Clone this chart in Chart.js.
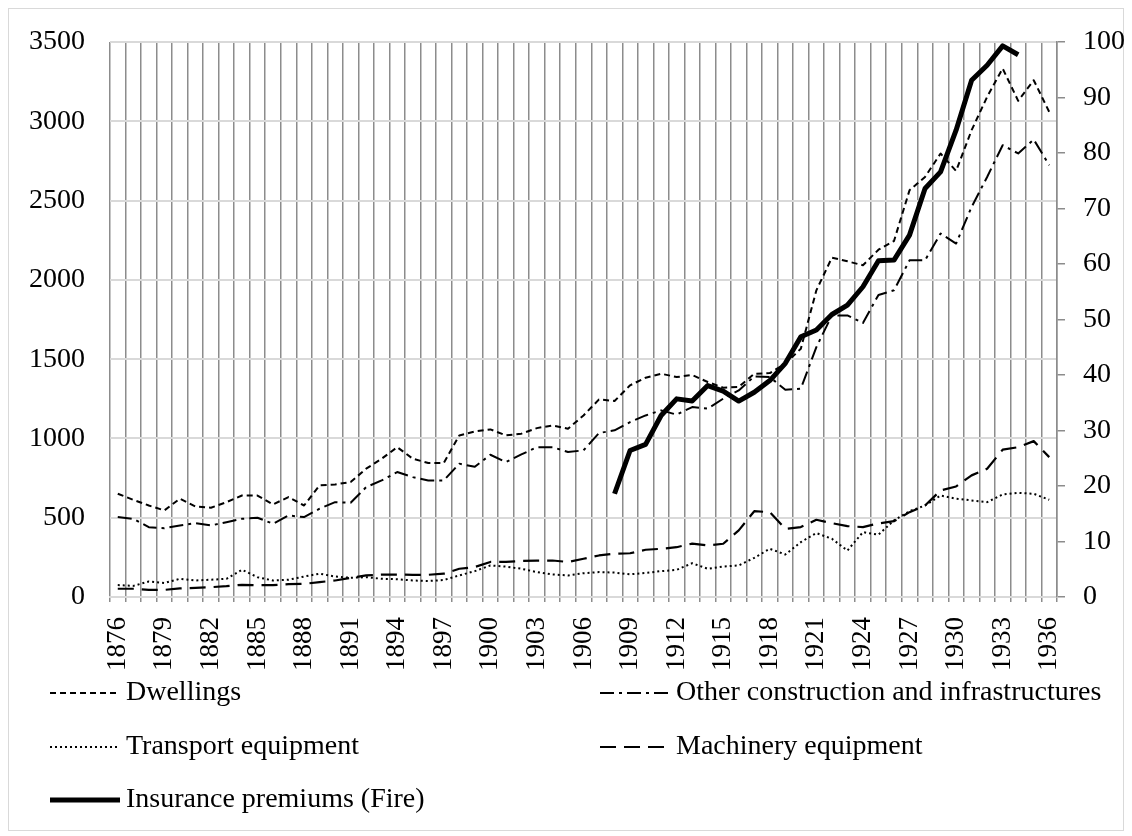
<!DOCTYPE html>
<html>
<head>
<meta charset="utf-8">
<script src="https://cdn.jsdelivr.net/npm/chart.js@4/dist/chart.umd.min.js"></script>
<style>
  body { margin: 0; background: #fff; }
  #wrap { width: 1132px; height: 836px; position: relative; }
</style>
</head>
<body>
<div id="wrap"><canvas id="chart"></canvas></div>
<script>
// years 1876 - 1936
var years = [];
for (var y = 1876; y <= 1936; y++) years.push(String(y));

var dwellings = [651, 613, 577, 546, 620, 571, 563, 598, 640, 640,
  584, 630, 577, 704, 710, 725, 809, 872, 945, 872,
  845, 845, 1019, 1044, 1057, 1019, 1030, 1065, 1082, 1061,
  1145, 1246, 1236, 1335, 1383, 1408, 1387, 1400, 1356, 1320,
  1325, 1408, 1412, 1472, 1566, 1934, 2140, 2117, 2092, 2190,
  2245, 2565, 2649, 2797, 2687, 2944, 3154, 3333, 3129, 3259, 3059];

var otherConstruction = [504, 493, 440, 434, 451, 466, 451, 472, 493, 500,
  462, 514, 504, 557, 598, 594, 693, 735, 788, 756,
  735, 735, 841, 821, 897, 851, 899, 945, 945, 914,
  925, 1034, 1051, 1103, 1145, 1177, 1150, 1198, 1188, 1251,
  1303, 1391, 1387, 1307, 1314, 1576, 1776, 1776, 1728, 1905,
  1934, 2123, 2123, 2292, 2229, 2460, 2649, 2849, 2797, 2885, 2723];

var transport = [75, 70, 98, 88, 115, 104, 109, 115, 172, 125,
  104, 109, 129, 147, 129, 121, 125, 115, 112, 104,
  101, 107, 136, 163, 199, 192, 178, 157, 142, 136,
  150, 157, 154, 143, 152, 163, 171, 213, 178, 192,
  199, 247, 304, 268, 346, 403, 367, 293, 409, 393,
  483, 541, 577, 640, 620, 609, 598, 647, 657, 651, 613];

var machinery = [52, 52, 45, 45, 54, 58, 62, 68, 77, 75,
  75, 81, 83, 94, 104, 121, 136, 141, 141, 140,
  140, 147, 178, 189, 221, 221, 227, 230, 230, 221,
  241, 262, 273, 276, 298, 304, 314, 337, 325, 336,
  420, 541, 535, 430, 441, 487, 466, 447, 441, 464,
  478, 535, 577, 672, 697, 767, 809, 929, 945, 983, 882];

// Insurance premiums (Fire), right axis, 1908 - 1934
var insuranceFirstYear = 1908;
var insurance = [18.6, 26.4, 27.5, 32.7, 35.7, 35.3, 38.1, 37.1, 35.3, 36.9,
  39.0, 42.1, 46.9, 48.1, 50.9, 52.6, 55.9, 60.6, 60.7, 65.2,
  73.6, 76.6, 84.1, 93.1, 95.8, 99.3, 97.7];

var insuranceData = years.map(function (yr) {
  var k = Number(yr) - insuranceFirstYear;
  return (k >= 0 && k < insurance.length) ? insurance[k] : null;
});

var FONT = 'Liberation Serif, Times New Roman, serif';

var legendItems = [
  { label: 'Dwellings', dash: [6, 4], width: 2, x: 50, y: 693 },
  { label: 'Other construction and infrastructures', dash: [14, 5, 3, 5], width: 2, x: 600, y: 693 },
  { label: 'Transport equipment', dash: [2, 3], width: 2, x: 50, y: 747 },
  { label: 'Machinery equipment', dash: [16, 8], width: 2.2, x: 600, y: 747 },
  { label: 'Insurance premiums (Fire)', dash: [], width: 5, x: 50, y: 800 }
];

var legendPlugin = {
  id: 'bottomLegend',
  beforeDraw: function (chart) {
    var ctx = chart.ctx;
    ctx.save();
    ctx.strokeStyle = '#d9d9d9';
    ctx.lineWidth = 1;
    ctx.strokeRect(8.5, 8.5, 1115, 822);
    ctx.restore();
  },
  afterDraw: function (chart) {
    var ctx = chart.ctx;
    ctx.save();
    ctx.font = '28px ' + FONT;
    ctx.textBaseline = 'middle';
    ctx.fillStyle = '#000';
    legendItems.forEach(function (it) {
      ctx.beginPath();
      ctx.setLineDash(it.dash);
      ctx.lineWidth = it.width;
      ctx.strokeStyle = '#000';
      ctx.moveTo(it.x, it.y);
      ctx.lineTo(it.x + 70, it.y);
      ctx.stroke();
      ctx.setLineDash([]);
      ctx.fillText(it.label, it.x + 76, it.y);
    });
    ctx.restore();
  }
};

var ctx = document.getElementById('chart');
var chart = new Chart(ctx, {
  type: 'line',
  data: {
    labels: years,
    datasets: [
      {
        label: 'Insurance premiums (Fire)',
        data: insuranceData,
        yAxisID: 'y1',
        borderColor: '#000',
        borderWidth: 5,
        spanGaps: false
      },
      {
        label: 'Dwellings',
        data: dwellings,
        yAxisID: 'y',
        borderColor: '#000',
        borderWidth: 2,
        borderDash: [6, 4]
      },
      {
        label: 'Other construction and infrastructures',
        data: otherConstruction,
        yAxisID: 'y',
        borderColor: '#000',
        borderWidth: 2,
        borderDash: [14, 5, 3, 5]
      },
      {
        label: 'Transport equipment',
        data: transport,
        yAxisID: 'y',
        borderColor: '#000',
        borderWidth: 2,
        borderDash: [2, 3]
      },
      {
        label: 'Machinery equipment',
        data: machinery,
        yAxisID: 'y',
        borderColor: '#000',
        borderWidth: 2.2,
        borderDash: [16, 8]
      }
    ]
  },
  options: {
    responsive: true,
    maintainAspectRatio: false,
    animation: false,
    elements: {
      point: { radius: 0 },
      line: { tension: 0, borderJoinStyle: 'round', fill: false }
    },
    layout: { padding: { top: 42, left: 0, right: 0, bottom: 150 } },
    plugins: {
      legend: { display: false },
      tooltip: { enabled: false }
    },
    scales: {
      x: {
        offset: true,
        grid: {
          offset: true,
          color: '#8c8c8c',
          lineWidth: 1.5,
          drawTicks: true,
          tickLength: 5
        },
        border: { color: '#d9d9d9', width: 2 },
        ticks: {
          autoSkip: false,
          maxRotation: 90,
          minRotation: 90,
          padding: 15,
          color: '#000',
          font: { family: FONT, size: 27 },
          callback: function (v, i) { return i % 3 === 0 ? years[i] : ''; }
        },
        afterFit: function (s) { s.height = 89; }
      },
      y: {
        position: 'left',
        min: 0,
        max: 3500,
        grid: { color: '#d9d9d9', lineWidth: 2, drawTicks: false },
        border: { display: false },
        ticks: {
          stepSize: 500,
          padding: 25,
          color: '#000',
          font: { family: FONT, size: 28 },
          callback: function (v) { return String(v); }
        },
        afterFit: function (s) { s.width = 110; }
      },
      y1: {
        position: 'right',
        min: 0,
        max: 100,
        grid: { drawOnChartArea: false, drawTicks: true, tickLength: 8, color: '#8c8c8c', lineWidth: 1.5 },
        border: { display: true, color: '#8c8c8c', width: 1.5 },
        ticks: {
          stepSize: 10,
          padding: 18,
          color: '#000',
          font: { family: FONT, size: 28 },
          callback: function (v) { return String(v); }
        },
        afterFit: function (s) { s.width = 75; }
      }
    }
  },
  plugins: [legendPlugin]
});
</script>
</body>
</html>
